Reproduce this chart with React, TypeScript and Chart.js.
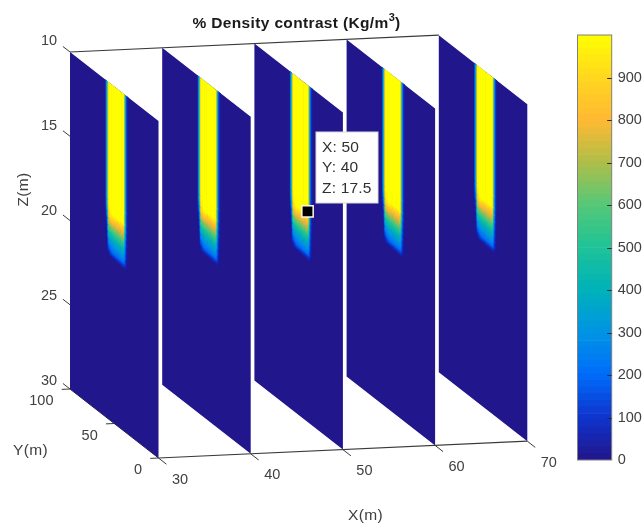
import React, { useEffect, useRef } from "react";
import { Chart, registerables } from "chart.js";

Chart.register(...registerables);

// ---- data ----
const sliceX = [30, 40, 50, 60, 70];
const xTicks = [30, 40, 50, 60, 70];
const yTicks = [0, 50, 100];
const zTicks = [10, 15, 20, 25, 30];
const cbTicks = [0, 100, 200, 300, 400, 500, 600, 700, 800, 900];
const tip = { x: 50, y: 40, z: 17.5 };

// density table: rows follow tableZ, columns follow tableY
const tableY = [60, 58, 56, 53, 50, 39, 37.5, 36, 34];
const tableZ = [10, 17, 17.7, 18.1, 18.5, 18.9, 19.3, 19.7, 20.0, 20.3];
const densityRow10 = [0, 400, 1000, 1000, 1000, 1000, 500, 150, 0];
const densityRow17 = [0, 400, 1000, 1000, 1000, 1000, 500, 150, 0];
const densityRow177 = [0, 250, 900, 1000, 1000, 1000, 500, 150, 0];
const densityRow181 = [0, 120, 780, 850, 830, 820, 430, 130, 0];
const densityRow185 = [0, 60, 620, 650, 670, 700, 360, 110, 0];
const densityRow189 = [0, 20, 450, 480, 500, 540, 290, 90, 0];
const densityRow193 = [0, 0, 300, 340, 360, 400, 230, 75, 0];
const densityRow197 = [0, 0, 190, 250, 270, 300, 190, 60, 0];
const densityRow200 = [0, 0, 60, 170, 190, 220, 150, 45, 0];
const densityRow203 = [0, 0, 0, 0, 0, 40, 40, 10, 0];
const density = [
  densityRow10, densityRow17, densityRow177, densityRow181, densityRow185,
  densityRow189, densityRow193, densityRow197, densityRow200, densityRow203,
];

// colour map stops, one per 100 units from 0 to 1000
const cmapStops: number[][] = [
  [33, 22, 140], [14, 52, 205], [0, 108, 250], [0, 148, 228], [0, 178, 185],
  [30, 195, 150], [85, 200, 120], [175, 190, 72], [255, 185, 50], [255, 215, 30], [255, 255, 0],
];
const cbLevels = 64;

// ---- oblique view of the 3D box onto the page ----
function project(X: number, Y: number, Z: number) {
  return {
    x: 70 + (X - 30) * 9.22 + (100 - Y) * 0.885,
    y: 52 + (Z - 10) * 16.85 + (100 - Y) * 0.69 - (X - 30) * 0.42,
  };
}

function colourOf(v: number) {
  const t = Math.max(0, Math.min(1000, v)) / 100;
  const i = Math.min(9, Math.floor(t));
  const f = t - i;
  const a = cmapStops[i];
  const b = cmapStops[i + 1];
  return `rgb(${a.map((c, k) => Math.round(c + (b[k] - c) * f)).join(",")})`;
}

const TICK = "#3a3a3a";
const TEXT = "#404040";
const FONT = "'Liberation Sans', Arial, sans-serif";

function segment(a: { x: number; y: number }, b: { x: number; y: number }, order: number, width = 1, color = TICK) {
  return {
    type: "line" as const,
    data: [a, b],
    borderColor: color,
    borderWidth: width,
    pointRadius: 0,
    fill: false,
    order,
    clip: false,
  };
}

const bandPlugin = {
  id: "band",
  afterDatasetDraw(chart: any, args: any) {
    if (args.index >= sliceX.length) return;
    const ctx = chart.ctx;
    const sx = chart.scales.x;
    const sy = chart.scales.y;
    const X = sliceX[args.index];
    const toPx = (Y: number, Z: number) => {
      const p = project(X, Y, Z);
      return [sx.getPixelForValue(p.x), sy.getPixelForValue(p.y)];
    };
    ctx.save();
    const nY = 4;
    for (let r = 0; r < tableZ.length - 1; r++) {
      const nZ = r === 0 ? 1 : 6;
      for (let c = 0; c < tableY.length - 1; c++) {
        for (let i = 0; i < nY; i++) {
          for (let j = 0; j < nZ; j++) {
            const u = (i + 0.5) / nY;
            const w = (j + 0.5) / nZ;
            const v =
              (1 - w) * ((1 - u) * density[r][c] + u * density[r][c + 1]) +
              w * ((1 - u) * density[r + 1][c] + u * density[r + 1][c + 1]);
            if (v < 6) continue;
            const y0 = tableY[c] + ((tableY[c + 1] - tableY[c]) * i) / nY;
            const y1 = tableY[c] + ((tableY[c + 1] - tableY[c]) * (i + 1)) / nY;
            const z0 = tableZ[r] + ((tableZ[r + 1] - tableZ[r]) * j) / nZ;
            const z1 = tableZ[r] + ((tableZ[r + 1] - tableZ[r]) * (j + 1)) / nZ;
            const col = colourOf(v);
            ctx.fillStyle = col;
            ctx.beginPath();
            let p = toPx(y0 + 0.35, z0);
            ctx.moveTo(p[0], p[1]);
            p = toPx(y1 - 0.35, z0);
            ctx.lineTo(p[0], p[1]);
            p = toPx(y1 - 0.35, z1 + 0.04);
            ctx.lineTo(p[0], p[1]);
            p = toPx(y0 + 0.35, z1 + 0.04);
            ctx.lineTo(p[0], p[1]);
            ctx.closePath();
            ctx.fill();
          }
        }
      }
    }
    ctx.restore();
  },
};

const textPlugin = {
  id: "labels",
  afterDraw(chart: any) {
    const ctx = chart.ctx;
    const sx = chart.scales.x;
    const sy = chart.scales.y;
    ctx.save();
    ctx.textAlign = "center";
    ctx.textBaseline = "middle";
    ctx.fillStyle = TEXT;
    ctx.font = `14.5px ${FONT}`;
    xTicks.forEach((t) => {
      const p = project(t, 0, 30);
      ctx.fillText(String(t), sx.getPixelForValue(p.x + 21.5), sy.getPixelForValue(p.y + 21.5));
    });
    zTicks.forEach((t) => {
      const p = project(30, 100, t);
      ctx.fillText(String(t), sx.getPixelForValue(p.x - 21), sy.getPixelForValue(p.y - 11.3 + (t - 10) * 0.16));
    });
    ctx.textAlign = "right";
    yTicks.forEach((t) => {
      const p = project(30, t, 30);
      ctx.fillText(String(t), sx.getPixelForValue(p.x - 16.5), sy.getPixelForValue(p.y + 12));
    });
    ctx.textAlign = "center";
    ctx.font = `15.5px ${FONT}`;
    (ctx as any).letterSpacing = "0.3px";
    ctx.fillText("X(m)", sx.getPixelForValue(365.5), sy.getPixelForValue(516));
    ctx.fillText("Y(m)", sx.getPixelForValue(30.5), sy.getPixelForValue(451));
    ctx.save();
    ctx.translate(sx.getPixelForValue(24), sy.getPixelForValue(189.5));
    ctx.rotate(-Math.PI / 2);
    ctx.fillText("Z(m)", 0, 0);
    ctx.restore();

    // title with superscript
    ctx.fillStyle = "#1a1a1a";
    ctx.textAlign = "left";
    ctx.font = `bold 15.5px ${FONT}`;
    (ctx as any).letterSpacing = "0.35px";
    const title = "% Density contrast (Kg/m";
    const w = ctx.measureText(title).width;
    const x0 = sx.getPixelForValue(192.5);
    const ty = sy.getPixelForValue(23.5);
    ctx.fillText(title, x0, ty);
    ctx.font = `bold 11px ${FONT}`;
    ctx.fillText("3", x0 + w, ty - 6);
    const w3 = ctx.measureText("3").width;
    ctx.font = `bold 15.5px ${FONT}`;
    ctx.fillText(")", x0 + w + w3, ty);

    // data tip box
    const bx0 = sx.getPixelForValue(316);
    const bx1 = sx.getPixelForValue(378);
    const by0 = sy.getPixelForValue(132);
    const by1 = sy.getPixelForValue(203);
    ctx.fillStyle = "#ffffff";
    ctx.strokeStyle = "#d8d8d8";
    ctx.lineWidth = 1;
    ctx.fillRect(bx0, by0, bx1 - bx0, by1 - by0);
    ctx.strokeRect(bx0, by0, bx1 - bx0, by1 - by0);
    ctx.fillStyle = "#303030";
    ctx.font = `15.5px ${FONT}`;
    (ctx as any).letterSpacing = "0.2px";
    [`X: ${tip.x}`, `Y: ${tip.y}`, `Z: ${tip.z}`].forEach((s, i) => {
      ctx.fillText(s, bx0 + 6, by0 + 15.5 + i * 20.5);
    });
    ctx.restore();
  },
};

const cbTickPlugin = {
  id: "cbTicks",
  afterDraw(chart: any) {
    const ctx = chart.ctx;
    const a = chart.chartArea;
    const s = chart.scales.y;
    ctx.save();
    ctx.strokeStyle = "#808080";
    ctx.lineWidth = 1;
    ctx.strokeRect(a.left, a.top, a.right - a.left, a.bottom - a.top);
    ctx.strokeStyle = "#2a2a2a";
    cbTicks.forEach((t) => {
      if (t === 0) return;
      const y = Math.round(s.getPixelForValue(t)) + 0.5;
      ctx.beginPath();
      ctx.moveTo(a.right - 4.5, y);
      ctx.lineTo(a.right, y);
      ctx.stroke();
    });
    ctx.restore();
  },
};

export default function App() {
  const mainRef = useRef<HTMLCanvasElement>(null);
  const cbRef = useRef<HTMLCanvasElement>(null);

  useEffect(() => {
    document.body.style.margin = "0";
    const polygons = sliceX.map((X) => ({
      type: "line" as const,
      data: [project(X, 100, 10), project(X, 0, 10), project(X, 0, 30), project(X, 100, 30), project(X, 100, 10)],
      borderColor: "rgba(0,0,0,0)",
      borderWidth: 0,
      backgroundColor: colourOf(0),
      fill: "shape",
      pointRadius: 0,
      order: 20,
      clip: false,
    }));
    const edges = [
      segment(project(30, 100, 10), project(70, 100, 10), 5, 1.2),
      segment(project(30, 0, 30), project(70, 0, 30), 5, 1.2),
      segment(project(30, 100, 30), project(30, 0, 30), 5, 1, "#20205a"),
    ];
    const ticks = [
      ...xTicks.map((t) => segment(project(t, 0, 30), project(t, -9, 30), 5)),
      ...yTicks.map((t) => segment(project(30, t, 30), project(29.1, t, 30), 5)),
      ...zTicks.map((t) => segment(project(30, 100, t), project(30, 108, t), 5)),
    ];
    const tipPoint = {
      type: "line" as const,
      data: [project(tip.x, tip.y, tip.z)],
      showLine: false,
      pointStyle: "rect",
      pointRadius: 8,
      pointBackgroundColor: "#000000",
      pointBorderColor: "#fff8e8",
      pointBorderWidth: 1.5,
      order: 1,
      clip: false,
    };
    const main = new Chart(mainRef.current!, {
      type: "line",
      data: { datasets: [...polygons, ...edges, ...ticks, tipPoint] as any },
      options: {
        animation: false,
        responsive: false,
        layout: { padding: 0, autoPadding: false },
        plugins: { legend: { display: false }, tooltip: { enabled: false }, title: { display: false } },
        scales: {
          x: { type: "linear", min: 0, max: 644, display: false },
          y: { type: "linear", min: 0, max: 529, reverse: true, display: false },
        },
      },
      plugins: [bandPlugin, textPlugin],
    } as any);

    const levels = Array.from({ length: cbLevels }, (_, i) => i);
    const bar = new Chart(cbRef.current!, {
      type: "bar",
      data: {
        labels: [""],
        datasets: levels.map((i) => ({
          data: [1000 / cbLevels],
          backgroundColor: colourOf(((i + 0.5) * 1000) / cbLevels),
          borderWidth: 0,
          barPercentage: 1,
          categoryPercentage: 1,
          stack: "cb",
        })),
      },
      options: {
        animation: false,
        responsive: false,
        layout: { padding: { left: 7.5, top: 35, bottom: 69, right: 0 }, autoPadding: false },
        plugins: { legend: { display: false }, tooltip: { enabled: false } },
        scales: {
          x: { stacked: true, display: false },
          y: {
            stacked: true,
            position: "right",
            min: 0,
            max: 1000,
            afterFit(s: any) {
              s.width = 32.3;
            },
            afterBuildTicks(s: any) {
              s.ticks = cbTicks.map((value) => ({ value }));
            },
            border: { display: false },
            grid: { display: false, drawTicks: false },
            ticks: { color: TEXT, font: { family: FONT, size: 14.5 }, padding: 6, align: "center" },
          },
        },
      },
      plugins: [cbTickPlugin],
    } as any);
    return () => {
      main.destroy();
      bar.destroy();
    };
  }, []);

  return (
    <div style={{ position: "relative", width: 644, height: 529, background: "#fff", overflow: "hidden" }}>
      <canvas ref={mainRef} width={644} height={529} style={{ position: "absolute", left: 0, top: 0 }} />
      <canvas ref={cbRef} width={74} height={529} style={{ position: "absolute", left: 570, top: 0 }} />
    </div>
  );
}
